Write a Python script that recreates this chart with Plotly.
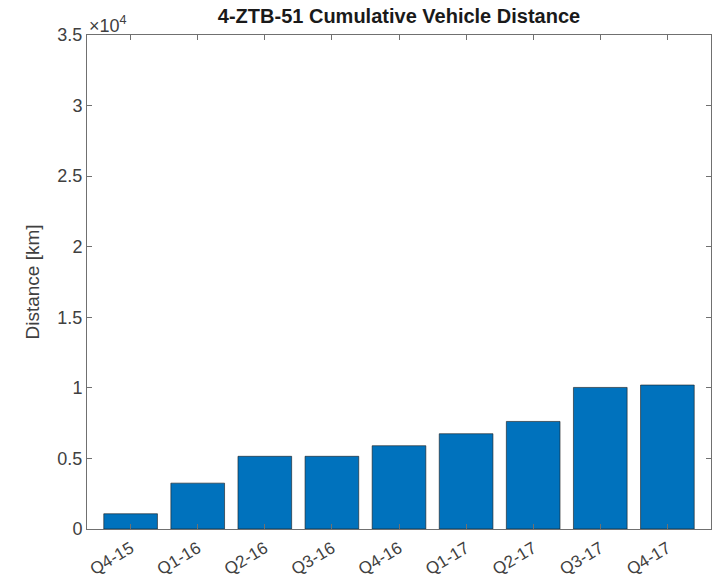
import plotly.graph_objects as go

categories = ["Q4-15", "Q1-16", "Q2-16", "Q3-16", "Q4-16", "Q1-17", "Q2-17", "Q3-17", "Q4-17"]
distance_km = [1080, 3250, 5150, 5150, 5900, 6750, 7620, 10030, 10200]
ytick_vals = [0, 5000, 10000, 15000, 20000, 25000, 30000, 35000]
ytick_text = ["0", "0.5", "1", "1.5", "2", "2.5", "3", "3.5"]
x_pos = list(range(1, len(categories) + 1))

font_family = "Liberation Sans, Arial, sans-serif"
axis_col = "#707070"
text_col = "#404040"

fig = go.Figure()
fig.add_trace(go.Bar(
    x=x_pos, y=distance_km, width=0.8,
    marker=dict(color="#0072BD", line=dict(color="#1a1a1a", width=0.6)),
))

fig.update_layout(
    width=717, height=582,
    margin=dict(l=87, r=6, t=35, b=53),
    plot_bgcolor="white", paper_bgcolor="white",
    showlegend=False,
    font=dict(family=font_family, size=17, color=text_col),
    title=dict(text="<b>4-ZTB-51 Cumulative Vehicle Distance</b>",
               x=(87 + 711) / 2 / 717, xanchor="center", y=1 - 16 / 582, yanchor="middle",
               font=dict(family=font_family, size=20, color="#1a1a1a")),
    xaxis=dict(range=[0.35, len(categories) + 0.65], tickvals=x_pos, ticktext=categories,
               tickangle=-31, ticks="inside", ticklen=5, tickcolor=axis_col,
               ticklabelstandoff=2, automargin=False,
               showline=True, linecolor=axis_col, linewidth=1, mirror="ticks",
               showgrid=False, zeroline=False, tickfont=dict(size=17, color=text_col)),
    yaxis=dict(range=[0, 35000], tickvals=ytick_vals, ticktext=ytick_text,
               ticks="inside", ticklen=5, tickcolor=axis_col, automargin=False,
               showline=True, linecolor=axis_col, linewidth=1, mirror="ticks",
               showgrid=False, zeroline=False, tickfont=dict(size=18, color=text_col),
               title=dict(text="Distance [km]", font=dict(size=19, color=text_col), standoff=12)),
)

fig.add_annotation(text="×10<sup>4</sup>", xref="paper", yref="paper", x=0, y=1,
                   xanchor="left", yanchor="bottom", showarrow=False, xshift=0, yshift=-3,
                   font=dict(family=font_family, size=18, color=text_col))

fig.write_html("out.html")
